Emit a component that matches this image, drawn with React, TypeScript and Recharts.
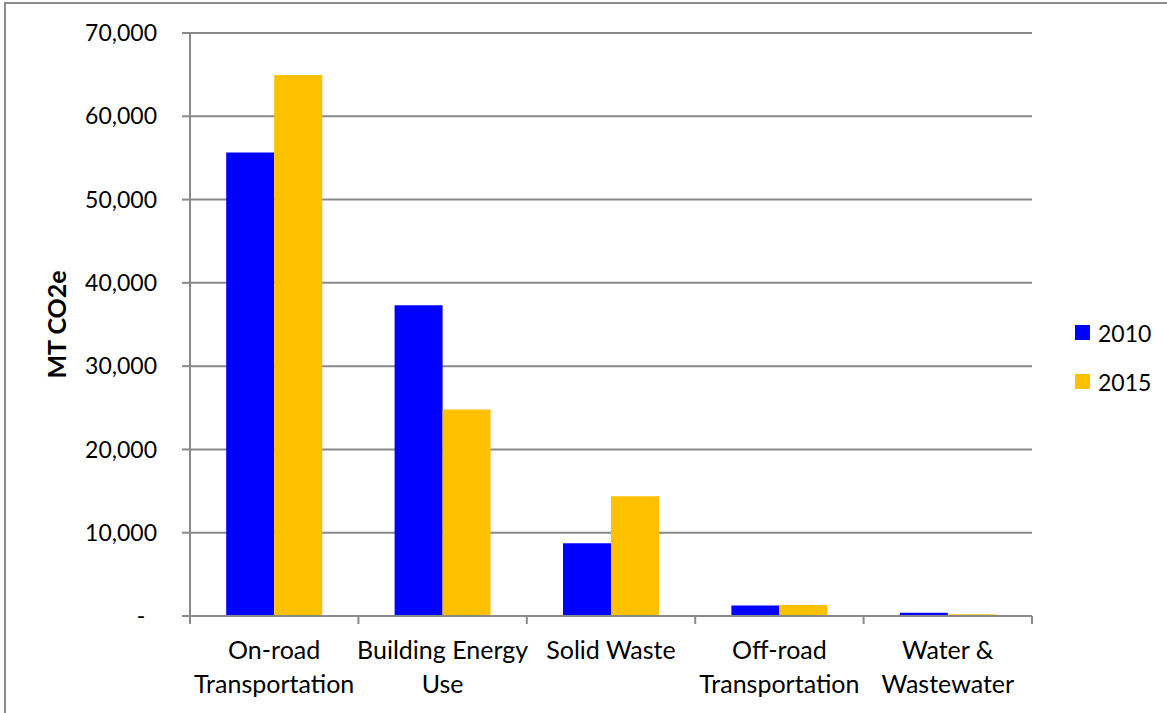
import { BarChart, Bar, XAxis, YAxis, CartesianGrid, Legend } from "recharts";

const categories = [
  "On-road Transportation",
  "Building Energy Use",
  "Solid Waste",
  "Off-road Transportation",
  "Water & Wastewater",
];
const labelLines = [
  ["On-road", "Transportation"],
  ["Building Energy", "Use"],
  ["Solid Waste"],
  ["Off-road", "Transportation"],
  ["Water &", "Wastewater"],
];
const values2010 = [55650, 37300, 8750, 1250, 380];
const values2015 = [64950, 24800, 14380, 1330, 210];
const yTicks = [0, 10000, 20000, 30000, 40000, 50000, 60000, 70000];

const data = categories.map((name, i) => ({
  name,
  lines: labelLines[i],
  y2010: values2010[i],
  y2015: values2015[i],
}));

const FONT = "Lato, 'Open Sans', sans-serif";
const GRID = "#898989";

function CategoryTick(props: any) {
  const { x, y, payload, index, visibleTicksCount } = props;
  const half = payload.offset ?? 84;
  const lines: string[] = data[index]?.lines ?? [payload.value];
  return (
    <g>
      <line x1={x - half} y1={y - 8} x2={x - half} y2={y} stroke={GRID} strokeWidth={2} />
      {index === visibleTicksCount - 1 && (
        <line x1={x + half} y1={y - 8} x2={x + half} y2={y} stroke={GRID} strokeWidth={2} />
      )}
      {lines.map((l, k) => (
        <text
          key={k}
          x={x}
          y={y + 35 + k * 34}
          textAnchor="middle"
          fontSize={25}
          fontFamily={FONT}
          fill="#000"
        >
          {l}
        </text>
      ))}
    </g>
  );
}

function LegendBox() {
  const items = [
    { label: "2010", color: "#0000FF" },
    { label: "2015", color: "#FFC000" },
  ];
  return (
    <div style={{ fontFamily: FONT, fontSize: 23 }}>
      {items.map((it) => (
        <div key={it.label} style={{ display: "flex", alignItems: "center", height: 49 }}>
          <span style={{ width: 15, height: 15, background: it.color, marginRight: 8 }} />
          <span>{it.label}</span>
        </div>
      ))}
    </div>
  );
}

export default function App() {
  return (
    <div
      style={{
        position: "absolute",
        left: 0,
        top: 0,
        width: 1167,
        height: 713,
        overflow: "hidden",
        background: "#fff",
      }}
    >
      <div
        style={{
          position: "absolute",
          left: 4,
          top: 2,
          width: 1200,
          height: 760,
          border: "2px solid #8c8c8c",
        }}
      />
      <BarChart
        width={1167}
        height={713}
        data={data}
        margin={{ top: 33, right: 45, bottom: 0, left: 0 }}
        barCategoryGap="21.5%"
        barGap={0}
        style={{ position: "absolute", left: 0, top: 0 }}
      >
        <CartesianGrid vertical={false} stroke={GRID} strokeWidth={2} />
        <XAxis
          dataKey="name"
          height={97}
          axisLine={{ stroke: GRID, strokeWidth: 2 }}
          tickLine={false}
          interval={0}
          tick={<CategoryTick />}
        />
        <YAxis
          width={190}
          domain={[0, 70000]}
          ticks={yTicks}
          interval={0}
          axisLine={{ stroke: GRID, strokeWidth: 2 }}
          tickLine={{ stroke: GRID, strokeWidth: 2 }}
          tickSize={8}
          tickMargin={25}
          tick={{ fontSize: 23, fontFamily: FONT, fill: "#000" }}
          tickFormatter={(v: number) => (v === 0 ? "-\u00a0\u00a0" : v.toLocaleString("en-US"))}
          label={{
            content: (p: any) => {
              const vb = p.viewBox || {};
              return (
                <text
                  x={0}
                  y={0}
                  transform={`translate(66, ${(vb.y ?? 33) + (vb.height ?? 583) / 2}) rotate(-90)`}
                  textAnchor="middle"
                  fontSize={25}
                  fontWeight="bold"
                  fontFamily={FONT}
                  fill="#000"
                >
                  MT CO2e
                </text>
              );
            },
          }}
        />
        <Legend
          layout="vertical"
          align="right"
          verticalAlign="top"
          content={<LegendBox />}
          wrapperStyle={{ left: 1075, top: 308, width: 90 }}
        />
        <Bar dataKey="y2010" name="2010" fill="#0000FF" isAnimationActive={false} />
        <Bar dataKey="y2015" name="2015" fill="#FFC000" isAnimationActive={false} />
      </BarChart>
    </div>
  );
}
